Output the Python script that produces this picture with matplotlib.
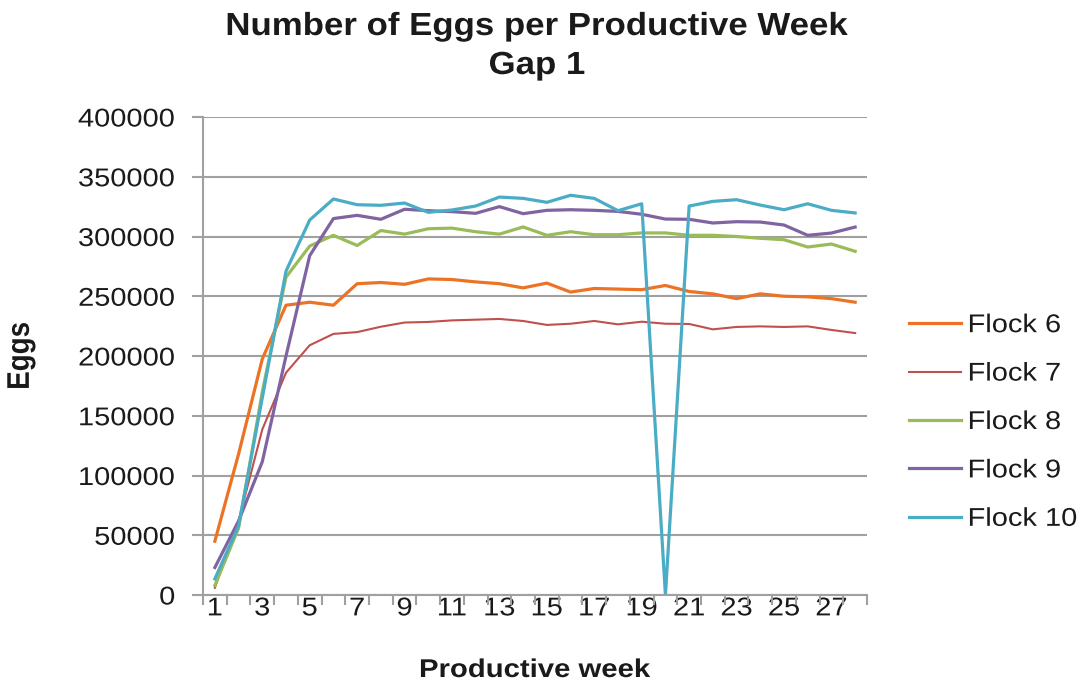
import matplotlib
matplotlib.use("Agg")
import matplotlib.pyplot as plt
from matplotlib.ticker import FixedLocator, NullFormatter
from matplotlib.patheffects import AbstractPathEffect
from matplotlib.transforms import Affine2D

plt.rcParams['font.family'] = ['Liberation Sans', 'DejaVu Sans']

weeks = list(range(1, 29))
flock6 = [45000, 118000, 197500, 242500, 245000, 242500, 260500, 261500, 260000, 264500,
          264000, 262000, 260500, 257000, 261000, 253500, 256500, 256000, 255500, 259000,
          254000, 252000, 248000, 252000, 250000, 249500, 248000, 245000]
flock7 = [6000, 62000, 138500, 186000, 209000, 218500, 220000, 224500, 228000, 228500,
          229800, 230400, 231000, 229300, 226000, 227000, 229300, 226500, 228700, 227000,
          226800, 222300, 224300, 224800, 224300, 224800, 221800, 219200]
flock8 = [8000, 56000, 170000, 266000, 292000, 301000, 292500, 305000, 302000, 306500,
          307000, 304000, 302000, 308000, 301000, 304000, 301500, 301500, 303000, 303000,
          301000, 301000, 300000, 298500, 297300, 291200, 293700, 287600]
flock9 = [23000, 62000, 111500, 200000, 284000, 315000, 317700, 314400, 322800, 321600,
          320800, 319400, 325000, 319100, 321900, 322400, 321900, 321000, 318600, 314600,
          314400, 311300, 312400, 312100, 309600, 301000, 302900, 307900]
flock10 = [13500, 58000, 165000, 271000, 313800, 331400, 326600, 326100, 328000, 320200,
           322200, 325500, 333000, 331900, 328600, 334500, 331900, 321600, 327400, 0,
           325500, 329400, 330800, 326300, 322400, 327400, 321900, 319700]

series_names = ["Flock 6", "Flock 7", "Flock 8", "Flock 9", "Flock 10"]
series_values = [flock6, flock7, flock8, flock9, flock10]
colors = ["#EC7326", "#C0504D", "#9BBB59", "#8064A2", "#4BACC6"]
widths = [2.3, 1.5, 2.3, 2.3, 2.3]

y_ticks = [0, 50000, 100000, 150000, 200000, 250000, 300000, 350000, 400000]
x_tick_labels = [1, 3, 5, 7, 9, 11, 13, 15, 17, 19, 21, 23, 25, 27]


class HStretch(AbstractPathEffect):
    """Widen text horizontally about an anchor (reference text is stretched)."""
    def __init__(self, sx=1.13, anchor='center'):
        super().__init__()
        self.sx = sx
        self.anchor = anchor

    def draw_path(self, renderer, gc, tpath, affine, rgbFace=None):
        ext = tpath.get_extents(affine)
        if self.anchor == 'center':
            x0 = (ext.x0 + ext.x1) / 2
        elif self.anchor == 'right':
            x0 = ext.x1
        else:
            x0 = ext.x0
        new_aff = affine + Affine2D().translate(-x0, 0).scale(self.sx, 1).translate(x0, 0)
        renderer.draw_path(gc, tpath, new_aff, rgbFace)


W, H = 1084, 687
TXT = '#1a1a1a'
fig = plt.figure(figsize=(W / 100, H / 100), dpi=100)
ax = fig.add_axes([203 / W, 1 - 595 / H, (867 - 203) / W, (595 - 117) / H])

for name, vals, c, lw in zip(series_names, series_values, colors, widths):
    ax.plot(weeks, vals, color=c, lw=lw, label=name, solid_joinstyle='round')

grid_c = "#A0A0A0"
ax.set_xlim(0.5, 28.5)
ax.set_ylim(0, 400000)
ax.set_yticks(y_ticks)
ax.set_yticklabels([str(v) for v in y_ticks])
ax.yaxis.grid(True, color=grid_c, lw=1.5)
ax.set_axisbelow(True)

ax.xaxis.set_major_locator(FixedLocator(x_tick_labels))
ax.set_xticklabels([str(v) for v in x_tick_labels])
ax.xaxis.set_minor_locator(FixedLocator([i + 0.5 for i in range(0, 29)]))
ax.xaxis.set_minor_formatter(NullFormatter())
ax.tick_params(axis='x', which='major', length=0, pad=1, labelsize=18.5, labelcolor=TXT)
ax.tick_params(axis='x', which='minor', length=7, width=1.5, color=grid_c, direction='out')
ax.tick_params(axis='y', which='major', length=8, width=1.5, color=grid_c, pad=12,
               labelsize=18.5, labelcolor=TXT)

for lbl in ax.get_xticklabels():
    lbl.set_path_effects([HStretch(1.13, 'center')])
for lbl in ax.get_yticklabels():
    lbl.set_path_effects([HStretch(1.13, 'right')])

for s in ['top', 'right']:
    ax.spines[s].set_visible(False)
for s in ['left', 'bottom']:
    ax.spines[s].set_color(grid_c)
    ax.spines[s].set_linewidth(1.5)

fig.text(537 / W, 1 - 27 / H, "Number of Eggs per Productive Week", ha='center', va='center',
         fontsize=23, fontweight='bold', color=TXT, path_effects=[HStretch(1.09, 'center')])
fig.text(537 / W, 1 - 66 / H, "Gap 1", ha='center', va='center',
         fontsize=23, fontweight='bold', color=TXT, path_effects=[HStretch(1.09, 'center')])
fig.text(535 / W, 1 - 670 / H, "Productive week", ha='center', va='center',
         fontsize=18.5, fontweight='bold', color=TXT, path_effects=[HStretch(1.14, 'center')])
fig.text(21 / W, 1 - 356 / H, "Eggs", ha='center', va='center', rotation=90,
         fontsize=20, fontweight='bold', color=TXT, path_effects=[HStretch(1.13, 'center')])

leg = fig.legend(loc='center left', bbox_to_anchor=(909 / W, 1 - 422 / H), frameon=False,
                 fontsize=18.5, handlelength=2.02, handletextpad=0.27, labelspacing=0.95,
                 borderpad=0, borderaxespad=0)
for t in leg.get_texts():
    t.set_color(TXT)
    t.set_path_effects([HStretch(1.13, 'left')])

fig.savefig("out.png", dpi=100)
